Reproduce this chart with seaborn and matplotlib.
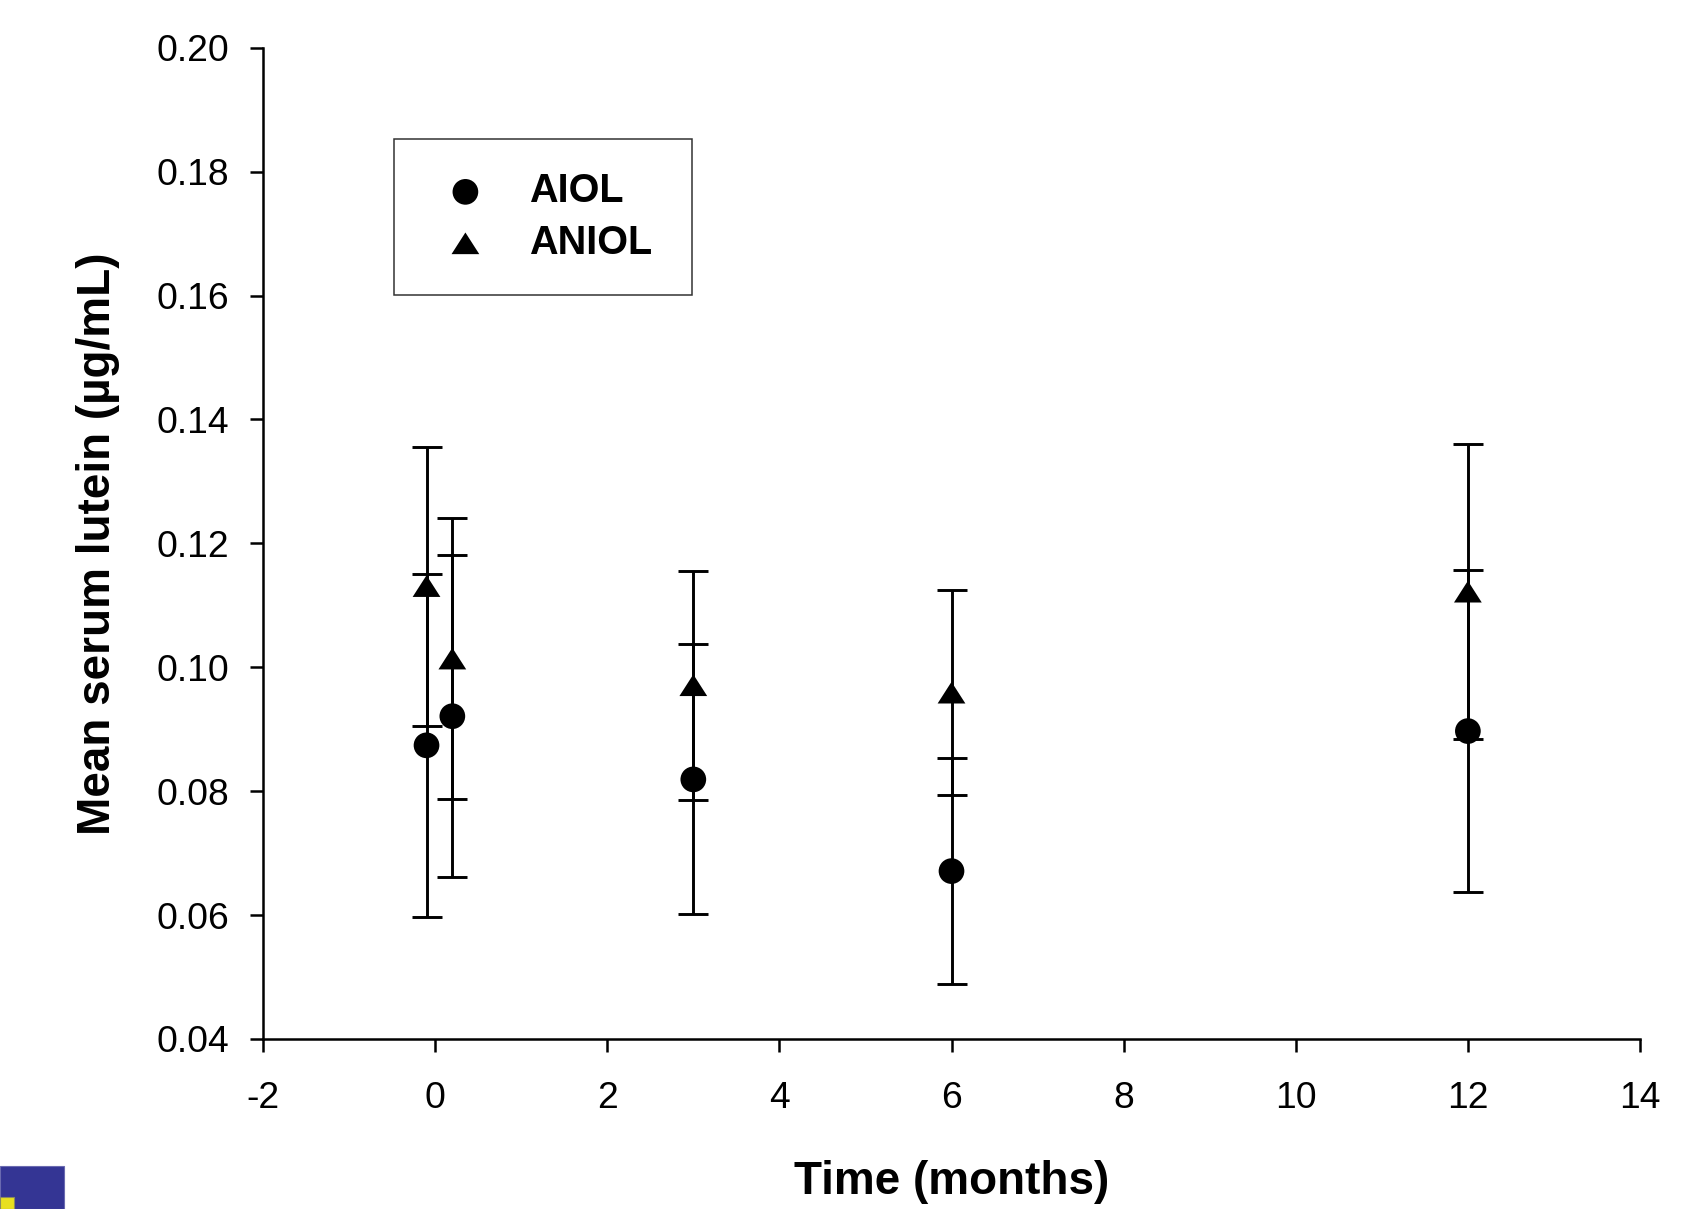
import matplotlib
matplotlib.use("Agg")
import matplotlib.pyplot as plt
import seaborn as sns
import pandas as pd
from matplotlib.path import Path
from matplotlib.patches import Rectangle

# ---- data ----
time_months = [-0.1, 0.2, 3, 6, 12]
aiol_mean = [0.0874, 0.0921, 0.0819, 0.0671, 0.0897]
aiol_sd = [0.0277, 0.0260, 0.0218, 0.0183, 0.0260]
aniol_mean = [0.1131, 0.1014, 0.0971, 0.0959, 0.1122]
aniol_sd = [0.0225, 0.0227, 0.0185, 0.0165, 0.0238]
series_names = ["AIOL", "ANIOL"]
x_ticks = [-2, 0, 2, 4, 6, 8, 10, 12, 14]
y_ticks = [0.04, 0.06, 0.08, 0.10, 0.12, 0.14, 0.16, 0.18, 0.20]

sns.set_theme(style="ticks")
plt.rcParams["font.family"] = ["Liberation Sans", "DejaVu Sans"]
plt.rcParams["axes.unicode_minus"] = False
for key in ["text.color", "axes.labelcolor", "xtick.color", "ytick.color", "axes.edgecolor"]:
    plt.rcParams[key] = "black"

fig = plt.figure(figsize=(16.97, 12.09), dpi=100)
ax = fig.add_axes([263 / 1697, 1 - 1039 / 1209, (1640 - 263) / 1697, (1039 - 47.7) / 1209])

df = pd.concat([
    pd.DataFrame({"time": time_months, "mean": aiol_mean, "sd": aiol_sd, "group": series_names[0]}),
    pd.DataFrame({"time": time_months, "mean": aniol_mean, "sd": aniol_sd, "group": series_names[1]}),
])

tri = Path([(0, 0.78), (-1, -0.78), (1, -0.78), (0, 0.78)],
           [Path.MOVETO, Path.LINETO, Path.LINETO, Path.CLOSEPOLY])
markers = {"AIOL": "o", "ANIOL": tri}
sizes = {"AIOL": 18.5 ** 2, "ANIOL": 20.0 ** 2}

lw = 2.1
for name in series_names:
    sub = df[df["group"] == name]
    ax.errorbar(sub["time"], sub["mean"], yerr=sub["sd"], fmt="none",
                ecolor="black", elinewidth=lw, capsize=11, capthick=lw, zorder=2)
for name in series_names:
    sub = df[df["group"] == name]
    sns.scatterplot(data=sub, x="time", y="mean", marker=markers[name], s=sizes[name],
                    color="black", edgecolor="none", linewidth=0, label=name, ax=ax, zorder=3)

ax.set_xlim(-2, 14)
ax.set_ylim(0.04, 0.20)
ax.set_xticks(x_ticks)
ax.set_xticklabels([str(t) for t in x_ticks])
ax.set_yticks(y_ticks)
ax.set_yticklabels([f"{t:.2f}" for t in y_ticks])
sns.despine(ax=ax)
for sp in ["left", "bottom"]:
    ax.spines[sp].set_linewidth(1.8)
    ax.spines[sp].set_color("black")
ax.tick_params(axis="both", direction="out", length=9.6, width=1.8, colors="black",
               labelcolor="black", labelsize=26.8)
ax.tick_params(axis="x", pad=21)
ax.tick_params(axis="y", pad=15)

ax.set_xlabel("Time (months)", fontsize=33, fontweight="bold", labelpad=31, color="black")
ax.set_ylabel("Mean serum lutein (\u00b5g/mL)", fontsize=33, fontweight="bold", labelpad=26,
              color="black")

leg = ax.legend(loc="upper left", bbox_to_anchor=(0.0951, 0.9079, 0.2162, 0.0),
                mode="expand", borderaxespad=0, frameon=True, fancybox=False,
                prop={"weight": "bold", "size": 28.5},
                borderpad=0.84, labelspacing=0.34, handlelength=1.93, handletextpad=0.65)
leg.get_frame().set_edgecolor("black")
leg.get_frame().set_linewidth(1.1)
for t in leg.get_texts():
    t.set_color("black")

# decorative logo fragment at bottom-left corner
fig.patches.append(Rectangle((0, 0), 64 / 1697, 43 / 1209, transform=fig.transFigure,
                             facecolor="#343594", edgecolor="#6a6ab0", linewidth=0.8))
fig.patches.append(Rectangle((0, 0), 14 / 1697, 12 / 1209, transform=fig.transFigure,
                             facecolor="#e8e020", edgecolor="#8a8a60", linewidth=0.8))

fig.savefig("out.png", dpi=100, facecolor="white")
